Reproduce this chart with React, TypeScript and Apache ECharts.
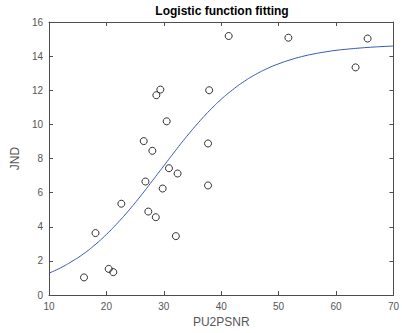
import React, { useEffect, useRef } from "react";
import * as echarts from "echarts";

const title = "Logistic function fitting";
const xName = "PU2PSNR";
const yName = "JND";

// Observed points (PU2PSNR, JND)
const pointX = [41.3, 51.7, 65.5, 63.4, 29.4, 28.7, 37.9, 30.5, 26.5, 28.0, 37.7, 30.9, 32.4, 26.8, 29.8, 37.7, 22.6, 27.3, 28.6, 18.1, 32.1, 20.4, 21.2, 16.1];
const pointY = [15.18, 15.08, 15.03, 13.34, 12.04, 11.71, 12.0, 10.18, 9.02, 8.45, 8.88, 7.43, 7.12, 6.65, 6.24, 6.42, 5.35, 4.89, 4.56, 3.63, 3.45, 1.53, 1.34, 1.03];

// Fitted curve
const curveX = [10, 12, 14, 16, 18, 20, 22, 24, 26, 28, 30, 32, 34, 36, 38, 40, 42, 44, 46, 48, 50, 52, 54, 56, 58, 60, 62, 64, 66, 68, 70];
const curveY = [1.28, 1.59, 1.97, 2.41, 2.94, 3.55, 4.24, 5.0, 5.82, 6.69, 7.57, 8.45, 9.3, 10.09, 10.82, 11.47, 12.03, 12.52, 12.93, 13.27, 13.55, 13.78, 13.97, 14.12, 14.24, 14.34, 14.41, 14.47, 14.52, 14.56, 14.59];

const xTicks = { min: 10, max: 70, interval: 10 };
const yTicks = { min: 0, max: 16, interval: 2 };

export default function App() {
  const ref = useRef<HTMLDivElement>(null);
  useEffect(() => {
    if (!ref.current) return;
    const chart = echarts.init(ref.current, null, { renderer: "svg" });
    const font = "Liberation Sans, Arial, Helvetica, sans-serif";
    const axisColor = "#4d4d4d";
    const baseAxis = {
      type: "value" as const,
      splitLine: { show: false },
      axisLine: { show: true, onZero: false, lineStyle: { color: axisColor, width: 1 } },
      axisTick: { show: true, inside: true, length: 4, lineStyle: { color: axisColor } },
    };
    chart.setOption({
      animation: false,
      backgroundColor: "#ffffff",
      title: {
        text: title,
        left: 222,
        textAlign: "center",
        top: 5,
        padding: 0,
        textStyle: { fontFamily: font, fontSize: 12, fontWeight: "bold", color: "#000" },
      },
      grid: { left: 49, right: 6, top: 22, bottom: 36, containLabel: false },
      xAxis: [
        {
          ...baseAxis,
          position: "bottom",
          ...xTicks,
          name: xName,
          nameLocation: "middle",
          nameGap: 21,
          nameTextStyle: { fontFamily: font, fontSize: 12, color: "#555" },
          axisLabel: { fontFamily: font, fontSize: 10, color: "#555", margin: 6 },
        },
        { ...baseAxis, position: "top", ...xTicks, axisLabel: { show: false } },
      ],
      yAxis: [
        {
          ...baseAxis,
          position: "left",
          ...yTicks,
          name: yName,
          nameLocation: "middle",
          nameGap: 21,
          nameTextStyle: { fontFamily: font, fontSize: 12, color: "#555" },
          axisLabel: { fontFamily: font, fontSize: 10, color: "#555", margin: 6 },
        },
        { ...baseAxis, position: "right", ...yTicks, axisLabel: { show: false } },
      ],
      series: [
        {
          type: "line",
          data: curveX.map((x, i) => [x, curveY[i]]),
          smooth: true,
          showSymbol: false,
          lineStyle: { color: "#3a56b5", width: 1 },
          z: 2,
        },
        {
          type: "scatter",
          data: pointX.map((x, i) => [x, pointY[i]]),
          symbol: "circle",
          symbolSize: 7,
          itemStyle: { color: "rgba(255,255,255,0)", borderColor: "#000", borderWidth: 1 },
          z: 3,
        },
      ],
    });
    return () => chart.dispose();
  }, []);
  return <div ref={ref} style={{ position: "fixed", left: 0, top: 0, width: 402, height: 333 }} />;
}
